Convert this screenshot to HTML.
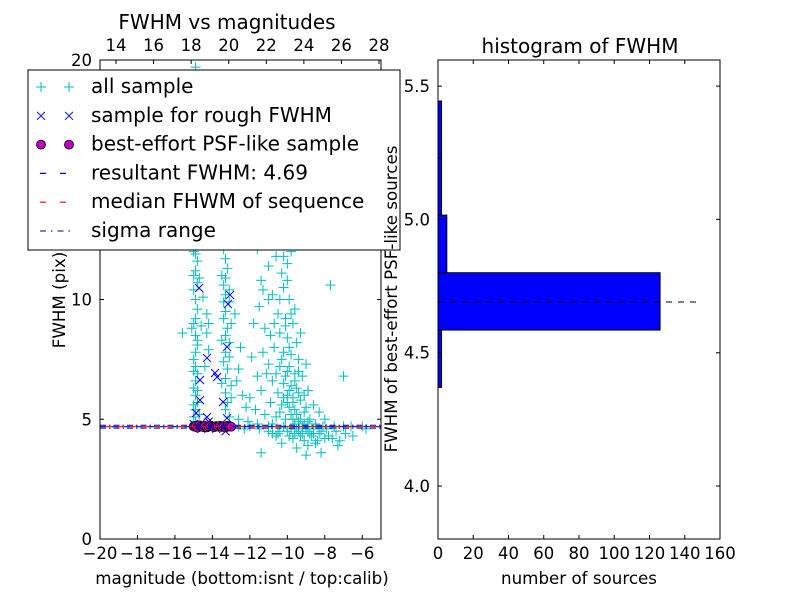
<!DOCTYPE html>
<html><head><meta charset="utf-8">
<style>
html,body{margin:0;padding:0;background:#fff;}
svg{display:block;font-family:"DejaVu Sans","Liberation Sans",sans-serif;}
</style></head>
<body>
<svg id="chart" width="800" height="600" viewBox="0 0 800 600" xmlns="http://www.w3.org/2000/svg">
<rect x="0" y="0" width="800" height="600" fill="#fff"/>
<g id="left"></g>
<g id="right"></g>
</svg>
<script>
// ---- scatter data (magnitude, FWHM) ----
const allSample = [[-14.9,19.7],[-14.8,17.2],[-14.9,16.8],[-15.0,16.3],[-14.8,15.9],[-14.9,15.5],[-15.1,15.1],[-14.8,14.7],[-14.9,14.3],[-14.7,14.0],[-15.0,13.6],[-14.9,13.2],[-14.8,12.8],[-14.9,12.4],[-15.0,12.0],[-14.8,11.6],[-14.9,11.2],[-14.7,10.9],[-15.0,10.4],[-14.9,10.0],[-14.8,9.6],[-14.9,9.2],[-15.1,8.8],[-14.9,8.5],[-14.8,8.1],[-14.9,7.8],[-15.0,7.5],[-14.9,7.2],[-14.8,6.9],[-14.9,6.6],[-15.0,6.3],[-14.9,6.0],[-14.8,5.7],[-14.9,5.4],[-15.0,5.1],[-14.9,4.9],[-15.6,8.6],[-14.6,8.9],[-14.5,10.1],[-14.4,12.3],[-14.3,9.4],[-14.2,9.0],[-14.3,8.6],[-14.2,7.9],[-14.4,7.2],
[-15.0,12.3],[-14.9,11.9],[-15.0,11.0],[-14.8,10.7],[-15.0,9.0],[-14.8,8.3],[-15.0,7.0],[-14.8,6.2],[-15.0,5.6],[-14.7,5.2],
[-13.3,13.0],[-13.2,12.5],[-13.4,12.1],[-13.3,11.7],[-13.2,11.3],[-13.3,10.9],[-13.4,10.6],[-13.3,10.2],[-13.1,9.9],[-13.3,9.5],[-13.4,9.2],[-13.2,8.8],[-13.3,8.5],[-13.1,8.2],[-13.3,7.8],[-13.4,7.4],[-13.2,7.1],[-13.3,6.7],[-13.0,6.4],[-13.3,6.1],[-13.2,5.7],[-13.3,5.4],[-13.1,5.1],[-12.6,7.1],[-12.5,8.0],[-12.8,9.4],[-12.7,6.6],[-12.4,6.0],[-12.2,5.5],[-12.6,5.0],
[-13.5,11.0],[-13.1,10.4],[-13.4,9.9],[-13.0,9.0],[-13.5,8.3],[-13.1,7.6],[-13.5,6.5],[-13.0,5.9],
[-11.3,12.9],[-10.9,12.5],[-11.6,12.1],[-10.6,11.8],[-11.0,11.4],[-10.3,11.1],[-11.4,10.8],[-10.2,10.5],[-10.8,10.2],[-9.9,10.0],[-11.5,9.7],[-10.5,9.4],[-10.1,9.2],[-9.7,9.0],[-11.2,8.8],[-10.4,8.6],[-10.0,8.4],[-9.5,8.2],[-10.7,8.0],[-10.2,7.8],[-9.8,7.7],[-9.4,7.5],[-11.0,7.3],[-10.4,7.2],[-10.0,7.0],[-9.6,6.9],[-9.2,6.8],[-10.8,6.6],[-10.2,6.5],[-9.8,6.4],[-9.5,6.3],[-11.4,6.2],[-10.5,6.1],[-10.0,6.0],[-9.7,5.9],[-9.3,5.8],[-10.9,5.7],[-10.3,5.6],[-9.9,5.5],[-9.6,5.4],[-9.1,5.3],[-11.2,5.2],[-10.6,5.1],[-10.1,5.0],[-9.7,5.0],[-9.4,4.9],[-8.9,4.9],[-11.6,4.8],[-10.8,4.8],[-10.2,4.7],[-9.8,4.6],[-9.5,4.6],[-9.0,4.6],[-8.6,4.6],[-11.0,4.5],[-10.4,4.5],[-10.0,4.5],[-9.6,4.4],[-9.2,4.4],[-8.8,4.4],[-8.3,4.4],[-10.6,4.3],[-9.9,4.3],[-9.3,4.3],[-8.7,4.3],[-8.0,4.2],[-7.6,4.2],[-7.2,4.1],[-8.4,4.1],[-10.3,4.0],[-11.4,3.6],[-9.0,3.5],[-8.2,3.6],[-7.0,6.8],[-7.7,10.6],[-8.3,5.3],[-8.0,5.0],[-8.6,5.6],[-8.9,6.2],[-9.0,7.3],[-9.3,8.6],[-9.6,9.6],[-10.0,10.8],[-10.6,12.3],[-11.8,9.0],[-11.9,7.6],[-12.0,5.9],[-11.7,5.4],[-12.1,4.9],[-11.5,4.6],[-12.3,4.6],[-7.4,4.5],[-6.9,4.4],[-6.5,4.3],[-7.9,4.6],[-8.5,4.8],[-11.3,10.4],[-10.4,13.0],[-9.8,12.0],[-10.0,11.5],[-11.1,6.9],[-9.4,7.0],[-9.1,6.0],[-10.7,9.0],[-9.9,8.0],
[-10.1,6.8],[-9.9,6.2],[-9.7,5.7],[-9.5,5.2],[-9.3,5.0],[-9.8,5.2],[-10.0,5.7],[-10.2,5.9],[-10.4,5.3],[-9.6,4.8],[-9.2,4.7],[-8.9,4.5],[-8.6,4.4],[-8.2,4.5],[-7.8,4.3],[-9.4,4.5],[-9.1,4.8],[-8.8,5.0],[-9.0,5.5],[-9.4,6.1],[-9.6,6.6],[-9.9,7.2],[-10.3,7.5],[-10.6,6.9],[-10.1,8.9],[-9.8,9.4],[-10.4,10.0],[-10.2,11.8],[-11.0,10.0],[-10.9,8.5],[-11.3,7.8],[-11.6,6.8],[-12.0,4.7],[-12.6,4.7],[-11.0,4.7],[-8.1,4.7],[-7.5,4.7],[-7.0,4.7],[-6.6,4.7],[-6.0,4.7],[-5.8,4.6],[-10.5,4.4],[-10.8,4.4],[-9.7,4.2],[-9.1,4.1],[-8.5,4.0],[-8.9,3.9],[-9.5,3.8],[-7.3,3.9]];
const roughSample = [[-14.71,10.48],[-13.17,9.81],[-13.06,10.19],[-13.22,8.02],[-14.29,7.56],[-13.86,6.93],[-13.75,6.76],[-14.66,6.64],[-14.66,5.80],[-13.43,5.72],[-14.87,5.26],[-14.29,5.09],[-13.22,5.05],[-15.0,4.8],[-14.6,4.6],[-13.8,4.6],[-13.3,4.5],[-14.2,4.9]];
const psfMags = [-15.0,-14.9,-14.8,-14.7,-14.6,-14.5,-14.4,-14.3,-14.2,-14.1,-14.0,-13.9,-13.8,-13.7,-13.6,-13.5,-13.4,-13.3,-13.2,-13.1,-13.0];
const psfFwhm = [4.7,4.72,4.65,4.75,4.7,4.68,4.72,4.66,4.7,4.74,4.69,4.67,4.71,4.7,4.73,4.68,4.7,4.66,4.72,4.7,4.69];
const resultFwhm = 4.69;
const medianFwhm = 4.69;
const sigmaRange = [4.63, 4.75];
const bottomTicks = [-20,-18,-16,-14,-12,-10,-8,-6];
const topTicks = [14,16,18,20,22,24,26,28];
const leftYTicks = [0,5,10,15,20];
// ---- histogram data ----
const binEdges = [4.37,4.585,4.80,5.016,5.23,5.444];
const binCounts = [2,126,5,2,2];
const histXTicks = [0,20,40,60,80,100,120,140,160];
const histYTicks = [4.0,4.5,5.0,5.5];

const NS="http://www.w3.org/2000/svg";
function mk(parent,tag,attrs,text){const e=document.createElementNS(NS,tag);for(const k in attrs)e.setAttribute(k,attrs[k]);if(text!==undefined)e.textContent=text;parent.appendChild(e);return e;}

const L={x0:100,x1:381,y0:60,y1:539};
const xs=v=>L.x0+(v-(-20))/15*(L.x1-L.x0);
const ys=v=>L.y1-(v/20)*(L.y1-L.y0);
const xt=v=>116+(v-14)/14*(379-116);
const lg=document.getElementById('left');

const ag=mk(lg,'g',{stroke:'#00bfbf','stroke-width':1});


allSample.forEach(p=>{const x=xs(p[0]),y=ys(p[1]);
 const e=mk(ag,'path',{d:`M${x-5},${y}H${x+5}M${x},${y-5}V${y+5}`});
 
 });
const bg=mk(lg,'g',{stroke:'#0000ff','stroke-width':1});


roughSample.forEach(p=>{const x=xs(p[0]),y=ys(p[1]);
 const e=mk(bg,'path',{d:`M${x-4},${y-4}L${x+4},${y+4}M${x-4},${y+4}L${x+4},${y-4}`});
 
 });
const pg=mk(lg,'g',{fill:'#bf00bf',stroke:'#000','stroke-width':0.8});


psfMags.forEach((m,i)=>{
 const e=mk(pg,'circle',{cx:xs(m),cy:ys(psfFwhm[i]),r:4.5});
 
 });

const lw=mk(lg,'g',{});


const sl1=mk(lw,'line',{x1:L.x0,x2:L.x1,y1:ys(sigmaRange[0]),y2:ys(sigmaRange[0]),stroke:'#00008b','stroke-width':1,'stroke-dasharray':'6,3,1.5,3'});


const sl2=mk(lw,'line',{x1:L.x0,x2:L.x1,y1:ys(sigmaRange[1]),y2:ys(sigmaRange[1]),stroke:'#00008b','stroke-width':1,'stroke-dasharray':'6,3,1.5,3'});


const rl=mk(lw,'line',{x1:L.x0,x2:L.x1,y1:ys(resultFwhm),y2:ys(resultFwhm),stroke:'#0000ff','stroke-width':1.2,'stroke-dasharray':'6,6'});


const ml=mk(lw,'line',{x1:L.x0+6,x2:L.x1,y1:ys(medianFwhm),y2:ys(medianFwhm),stroke:'#ff0000','stroke-width':1.2,'stroke-dasharray':'6,6'});



const lf=mk(lg,'rect',{x:L.x0,y:L.y0,width:L.x1-L.x0,height:L.y1-L.y0,fill:'none',stroke:'#000','stroke-width':1});


const ltk=mk(lg,'g',{stroke:'#000','stroke-width':1});
bottomTicks.forEach(v=>{const x=xs(v);mk(ltk,'path',{d:`M${x},${L.y1}v-4`});
 const t=mk(lg,'text',{x:x,y:L.y1+20,'text-anchor':'middle','font-size':16.5},v<0?'\u2212'+Math.abs(v):String(v));
 
 });
topTicks.forEach(v=>{const x=xt(v);mk(ltk,'path',{d:`M${x},${L.y0}v4`});
 const t=mk(lg,'text',{x:x,y:L.y0-9,'text-anchor':'middle','font-size':16.5},String(v));
 
 });
leftYTicks.forEach(v=>{const y=ys(v);mk(ltk,'path',{d:`M${L.x0},${y}h4M${L.x1},${y}h-4`});
 const t=mk(lg,'text',{x:L.x0-8,y:y+6,'text-anchor':'end','font-size':16.5},String(v));
 
 });
const lt=mk(lg,'text',{x:227,y:29,'text-anchor':'middle','font-size':20},'FWHM vs magnitudes');


const lx=mk(lg,'text',{x:242,y:584,'text-anchor':'middle','font-size':16.7},'magnitude (bottom:isnt / top:calib)');


const ly=mk(lg,'text',{x:0,y:0,'text-anchor':'middle','font-size':16.7,transform:'translate(65,300) rotate(-90)'},'FWHM (pix)');



const leg=mk(lg,'g',{});


mk(leg,'rect',{x:28,y:70,width:372,height:180,fill:'#fff',stroke:'#000','stroke-width':1});
const labels=['all sample','sample for rough FWHM','best-effort PSF-like sample','resultant FWHM: 4.69','median FHWM of sequence','sigma range'];
labels.forEach((s,i)=>{const y=87+i*28.8;
 const en=mk(leg,'g',{});
 
 
 [41,69].forEach(x=>{
  if(i===0) mk(en,'path',{d:`M${x-5},${y}H${x+5}M${x},${y-5}V${y+5}`,stroke:'#00bfbf'});
  if(i===1) mk(en,'path',{d:`M${x-4},${y-4}L${x+4},${y+4}M${x-4},${y+4}L${x+4},${y-4}`,stroke:'#0000ff'});
  if(i===2) mk(en,'circle',{cx:x,cy:y,r:4.5,fill:'#bf00bf',stroke:'#000','stroke-width':0.8});
 });
 if(i===3) mk(en,'line',{x1:40,x2:72,y1:y,y2:y,stroke:'#0000ff','stroke-width':1.2,'stroke-dasharray':'6,14'});
 if(i===4) mk(en,'line',{x1:40,x2:72,y1:y,y2:y,stroke:'#ff0000','stroke-width':1.2,'stroke-dasharray':'6,14'});
 if(i===5) mk(en,'line',{x1:40,x2:72,y1:y,y2:y,stroke:'#00008b','stroke-width':1,'stroke-dasharray':'6,5,1.5,5'});
 mk(en,'text',{x:91,y:y+6,'font-size':20},s);
});

const R={x0:438,x1:720,y0:60,y1:539};
const hx=v=>R.x0+v/160*(R.x1-R.x0);
const hy=v=>486-(v-4.0)/0.5*133.3;
const rg=document.getElementById('right');
const barsG=mk(rg,'g',{fill:'#0000ff',stroke:'#000','stroke-width':1});


binCounts.forEach((c,i)=>{const yTop=hy(binEdges[i+1]),yBot=hy(binEdges[i]);
 const b=mk(barsG,'rect',{x:hx(0),y:yTop,width:hx(c)-hx(0),height:yBot-yTop});
 
 });
const hl=mk(rg,'line',{x1:hx(0),x2:hx(147),y1:hy(resultFwhm),y2:hy(resultFwhm),stroke:'#000','stroke-width':1,'stroke-dasharray':'6,6'});


const rf=mk(rg,'rect',{x:R.x0,y:R.y0,width:R.x1-R.x0,height:R.y1-R.y0,fill:'none',stroke:'#000','stroke-width':1});


const rtk=mk(rg,'g',{stroke:'#000','stroke-width':1});
histXTicks.forEach(v=>{const x=hx(v);mk(rtk,'path',{d:`M${x},${R.y1}v-4M${x},${R.y0}v4`});
 const t=mk(rg,'text',{x:x,y:R.y1+20,'text-anchor':'middle','font-size':16.5},String(v));
 
 });
histYTicks.forEach(v=>{const y=hy(v);mk(rtk,'path',{d:`M${R.x0},${y}h4M${R.x1},${y}h-4`});
 const t=mk(rg,'text',{x:R.x0-8,y:y+6,'text-anchor':'end','font-size':16.5},v.toFixed(1));
 
 });
const rt=mk(rg,'text',{x:580,y:53,'text-anchor':'middle','font-size':20},'histogram of FWHM');


const rx=mk(rg,'text',{x:579,y:584,'text-anchor':'middle','font-size':16.7},'number of sources');


const ry=mk(rg,'text',{x:0,y:0,'text-anchor':'middle','font-size':16.7,transform:'translate(397,299) rotate(-90)'},'FWHM of best-effort PSF-like sources');


</script>
</body></html>
